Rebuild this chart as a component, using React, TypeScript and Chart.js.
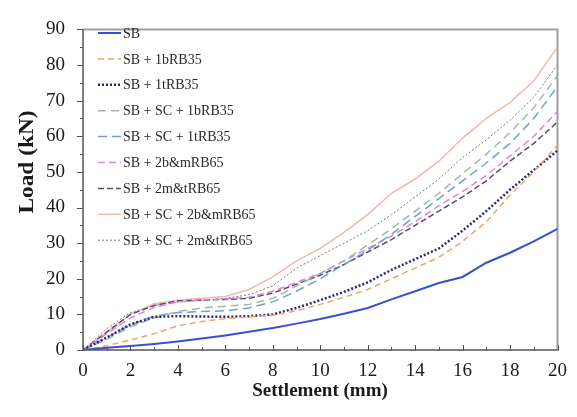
import React, { useEffect, useRef } from 'react';
import { Chart, registerables } from 'chart.js';

Chart.register(...registerables);

// Settlement (mm)
const settlement = [0, 1, 2, 3, 4, 5, 6, 7, 8, 9, 10, 11, 12, 13, 14, 15, 16, 17, 18, 19, 20];

// Load (kN) for each configuration
const sb = [0, 0.6, 1.1, 1.7, 2.4, 3.2, 4.1, 5.1, 6.2, 7.4, 8.7, 10.2, 11.8, 14.2, 16.5, 18.8, 20.5, 24.5, 27.3, 30.5, 34.0];
const sb1b = [0, 1.2, 2.8, 4.6, 6.8, 8.0, 8.8, 9.3, 9.8, 11.0, 12.8, 14.8, 17.0, 20.0, 23.0, 26.0, 30.5, 36.0, 43.5, 50.0, 57.5];
const sb1t = [0, 3.5, 7.2, 9.3, 9.5, 9.4, 9.3, 9.5, 10.0, 11.8, 14.0, 16.3, 19.0, 22.5, 25.5, 28.5, 33.5, 39.0, 45.0, 50.5, 56.0];
const sbsc1b = [0, 3.0, 6.5, 9.0, 10.8, 11.8, 12.3, 12.8, 14.5, 18.0, 21.5, 25.0, 29.5, 34.0, 39.0, 44.0, 49.5, 55.0, 61.0, 68.0, 77.0];
const sbsc1t = [0, 3.5, 7.0, 9.5, 10.5, 10.8, 11.0, 11.8, 13.5, 16.5, 20.0, 24.0, 28.0, 32.5, 37.5, 42.5, 47.5, 52.5, 58.0, 65.0, 74.0];
const sb2bm = [0, 4.5, 9.0, 12.0, 13.5, 14.0, 14.3, 14.8, 16.5, 19.0, 21.5, 25.0, 28.5, 32.0, 36.0, 40.5, 44.5, 49.0, 54.5, 60.0, 67.0];
const sb2mt = [0, 5.0, 10.0, 12.5, 13.8, 14.0, 14.2, 14.5, 16.0, 18.5, 21.0, 24.0, 27.5, 31.0, 35.0, 39.0, 43.0, 47.5, 53.0, 58.0, 64.0];
const sbsc2bm = [0, 5.0, 10.0, 13.0, 14.0, 14.5, 15.0, 17.0, 20.5, 25.0, 28.5, 33.0, 38.0, 44.0, 48.0, 53.0, 59.5, 65.0, 69.5, 75.5, 85.0];
const sbsc2mt = [0, 6.0, 10.5, 12.5, 13.5, 14.0, 14.5, 15.5, 18.0, 23.0, 26.5, 30.0, 33.5, 38.0, 43.0, 48.0, 54.0, 59.0, 64.5, 71.0, 80.0];

const seriesLabels = [
  'SB',
  'SB + 1bRB35',
  'SB + 1tRB35',
  'SB + SC + 1bRB35',
  'SB + SC + 1tRB35',
  'SB + 2b&mRB65',
  'SB + 2m&tRB65',
  'SB + SC + 2b&mRB65',
  'SB + SC + 2m&tRB65',
];
const seriesValues = [sb, sb1b, sb1t, sbsc1b, sbsc1t, sb2bm, sb2mt, sbsc2bm, sbsc2mt];

const xTitle = 'Settlement (mm)';
const yTitle = 'Load (kN)';
const xMax = 20;
const yMax = 90;

const styles = [
  { color: '#3a4ed2', dash: [], width: 2 },
  { color: '#f3a45c', dash: [6, 4], width: 1.5 },
  { color: '#2b2b72', dash: [2, 2], width: 2.5 },
  { color: '#a9b5a3', dash: [8, 5], width: 1.5 },
  { color: '#6e9fd8', dash: [9, 5], width: 1.5 },
  { color: '#d985e6', dash: [7, 4], width: 1.5 },
  { color: '#555555', dash: [6, 3], width: 1.5 },
  { color: '#f1b9b2', dash: [], width: 1.5 },
  { color: '#7a7a7a', dash: [2, 2], width: 1 },
];

const SERIF = '"Liberation Serif", "Times New Roman", serif';

const framePlugin = {
  id: 'frame',
  beforeDatasetsDraw(chart: any) {
    const { ctx, chartArea, scales } = chart;
    const { left, right, top, bottom } = chartArea;
    ctx.save();
    // top & right frame
    ctx.strokeStyle = '#a0a0a0';
    ctx.lineWidth = 2;
    ctx.beginPath();
    ctx.moveTo(left, top);
    ctx.lineTo(right, top);
    ctx.lineTo(right, bottom);
    ctx.stroke();
    // axes
    ctx.strokeStyle = '#555555';
    ctx.lineWidth = 1.5;
    ctx.beginPath();
    ctx.moveTo(left, top);
    ctx.lineTo(left, bottom);
    ctx.lineTo(right, bottom);
    ctx.stroke();
    // x ticks (inside, every 1 mm)
    ctx.lineWidth = 1;
    for (let v = 0; v <= xMax; v += 1) {
      const px = Math.round(scales.x.getPixelForValue(v)) + 0.5;
      const len = v % 2 === 0 ? 5 : 3;
      ctx.beginPath();
      ctx.moveTo(px, bottom + 1);
      ctx.lineTo(px, bottom - len);
      ctx.stroke();
    }
    // y ticks (outside, every 5 kN)
    for (let v = 0; v <= yMax; v += 5) {
      const py = Math.round(scales.y.getPixelForValue(v)) + 0.5;
      const len = v % 10 === 0 ? 6 : 3;
      ctx.beginPath();
      ctx.moveTo(left, py);
      ctx.lineTo(left - len, py);
      ctx.stroke();
    }
    ctx.restore();
  },
};

const legendAndTitles = {
  id: 'legendAndTitles',
  afterDraw(chart: any) {
    const { ctx } = chart;
    ctx.save();
    // legend inside plot area
    chart.data.datasets.forEach((ds: any, i: number) => {
      const y = 33 + i * 25.9;
      ctx.strokeStyle = ds.borderColor;
      ctx.lineWidth = ds.borderWidth;
      ctx.setLineDash(ds.borderDash || []);
      ctx.beginPath();
      ctx.moveTo(98, y);
      ctx.lineTo(121, y);
      ctx.stroke();
      ctx.setLineDash([]);
      ctx.fillStyle = '#2a2a2a';
      ctx.font = `14px ${SERIF}`;
      ctx.textAlign = 'left';
      ctx.textBaseline = 'middle';
      ctx.fillText(ds.label, 123, y + 1);
    });
    // y title (rotated)
    ctx.fillStyle = '#1a1a1a';
    ctx.font = `bold 20px ${SERIF}`;
    const w = ctx.measureText(yTitle).width;
    ctx.translate(28, 162);
    ctx.rotate(-Math.PI / 2);
    ctx.scale(103 / w, 1);
    ctx.textAlign = 'center';
    ctx.textBaseline = 'middle';
    ctx.fillText(yTitle, 0, 0);
    ctx.restore();
    // x title
    ctx.save();
    ctx.fillStyle = '#1a1a1a';
    ctx.font = `bold 19px ${SERIF}`;
    ctx.textAlign = 'center';
    ctx.textBaseline = 'middle';
    ctx.fillText(xTitle, 320, 391);
    ctx.restore();
  },
};

export default function App() {
  const ref = useRef<HTMLCanvasElement>(null);

  useEffect(() => {
    document.body.style.margin = '0';
    const canvas = ref.current;
    if (!canvas) return;
    const datasets = seriesLabels.map((label, i) => ({
      label,
      data: settlement.map((x, j) => ({ x, y: seriesValues[i][j] })),
      borderColor: styles[i].color,
      backgroundColor: styles[i].color,
      borderDash: styles[i].dash,
      borderWidth: styles[i].width,
      pointRadius: 0,
      fill: false,
      tension: 0,
    }));
    const chart = new Chart(canvas, {
      type: 'line',
      data: { datasets },
      options: {
        responsive: false,
        animation: false,
        events: [],
        layout: { padding: { top: 19, right: 11, left: 0, bottom: 0 } },
        plugins: {
          legend: { display: false },
          tooltip: { enabled: false },
        },
        scales: {
          x: {
            type: 'linear',
            min: 0,
            max: xMax,
            grid: { display: false, drawTicks: false },
            border: { display: false },
            ticks: {
              stepSize: 2,
              padding: 10,
              color: '#1a1a1a',
              font: { family: SERIF, size: 19 },
              maxRotation: 0,
            },
            afterFit: (scale: any) => {
              scale.height = 67;
            },
          },
          y: {
            type: 'linear',
            min: 0,
            max: yMax,
            grid: { display: false, drawTicks: false },
            border: { display: false },
            ticks: {
              stepSize: 10,
              padding: 18,
              color: '#1a1a1a',
              font: { family: SERIF, size: 19 },
            },
            afterFit: (scale: any) => {
              scale.width = 83;
            },
          },
        },
      },
      plugins: [framePlugin, legendAndTitles],
    });
    return () => chart.destroy();
  }, []);

  return (
    <div style={{ width: 577, height: 417 }}>
      <canvas ref={ref} width={577} height={417} />
    </div>
  );
}
